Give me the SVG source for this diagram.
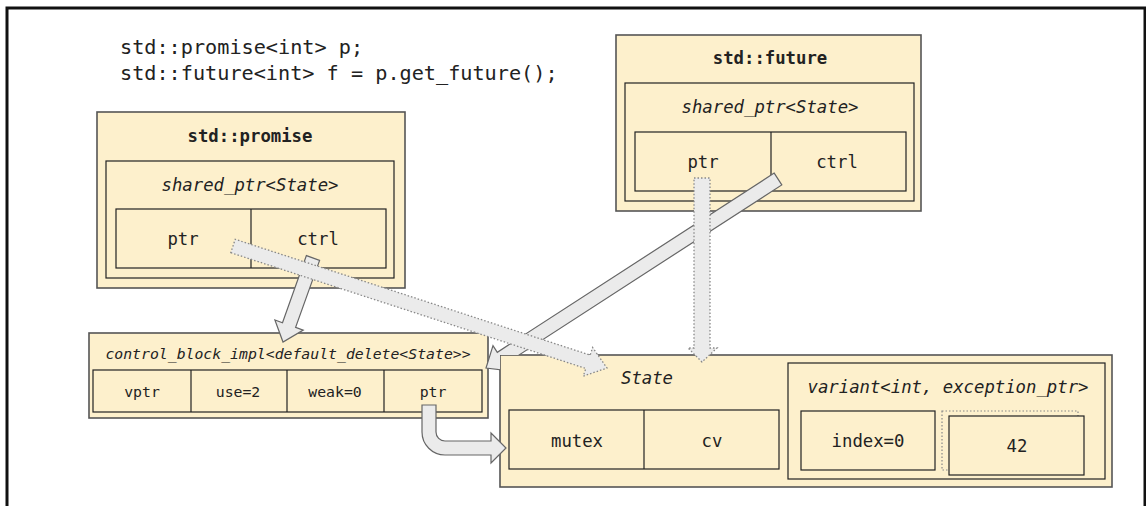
<svg xmlns="http://www.w3.org/2000/svg" width="1146" height="506" viewBox="0 0 1146 506">
<style>
text{font-family:"DejaVu Sans Mono","Liberation Mono",monospace;fill:#222;text-anchor:middle;font-size:17.3px}
.code{text-anchor:start;font-size:20.2px}
.b{font-weight:bold}
.i{font-style:italic}
.sm{font-size:14.8px}
.outer{fill:#fdf0cc;stroke:#555;stroke-width:1.6}
.inner{fill:#fdf0cc;stroke:#222;stroke-width:1.2}
.ln{stroke:#222;stroke-width:1.2}
.solid{fill:#ebebeb;stroke:#666;stroke-width:1.2;stroke-linejoin:miter}
.dot{fill:#ebebeb;stroke:#888;stroke-width:1.3;stroke-dasharray:1.5 2}
</style>
<defs>
<clipPath id="noState"><path clip-rule="evenodd" d="M0,0H1146V506H0Z M500,355V487H1112V355Z"/></clipPath>
</defs>
<path d="M7,506V8H1145V506" fill="none" stroke="#111" stroke-width="3"/>
<g id="code">
<text class="code" x="120" y="54">std::promise&lt;int&gt; p;</text>
<text class="code" x="120" y="80">std::future&lt;int&gt; f = p.get_future();</text>
</g>
<g id="promise">
<rect class="outer" x="97" y="112" width="308" height="176"/>
<text class="b" x="250" y="142">std::promise</text>
<rect class="inner" x="106" y="161" width="288" height="117"/>
<text class="i" x="250" y="191">shared_ptr&lt;State&gt;</text>
<rect class="inner" x="116" y="209" width="270" height="59"/>
<line class="ln" x1="251" y1="209" x2="251" y2="268"/>
<text x="183" y="245">ptr</text>
<text x="318" y="245">ctrl</text>
</g>
<g id="future">
<rect class="outer" x="616" y="35" width="305" height="176"/>
<text class="b" x="770" y="64">std::future</text>
<rect class="inner" x="625" y="83" width="289" height="118"/>
<text class="i" x="770" y="113">shared_ptr&lt;State&gt;</text>
<rect class="inner" x="635" y="132" width="271" height="59"/>
<line class="ln" x1="771" y1="132" x2="771" y2="191"/>
<text x="703" y="168">ptr</text>
<text x="837" y="168">ctrl</text>
</g>
<g id="control_block">
<rect class="outer" x="89" y="333" width="399" height="85"/>
<text class="i sm" x="288" y="359">control_block_impl&lt;default_delete&lt;State&gt;&gt;</text>
<rect class="inner" x="93" y="370" width="389" height="42"/>
<line class="ln" x1="191" y1="370" x2="191" y2="412"/>
<line class="ln" x1="287" y1="370" x2="287" y2="412"/>
<line class="ln" x1="384" y1="370" x2="384" y2="412"/>
<text class="sm" x="142" y="397">vptr</text>
<text class="sm" x="238" y="397">use=2</text>
<text class="sm" x="335" y="397">weak=0</text>
<text class="sm" x="433" y="397">ptr</text>
</g>
<g id="state">
<rect class="outer" x="500" y="355" width="612" height="132"/>
<text class="i" x="647" y="384">State</text>
<rect class="inner" x="509" y="410" width="270" height="59"/>
<line class="ln" x1="644" y1="410" x2="644" y2="469"/>
<text x="577" y="447">mutex</text>
<text x="712" y="447">cv</text>
<g id="variant">
<rect class="inner" x="788" y="363" width="317" height="116"/>
<text class="i" x="948" y="393">variant&lt;int, exception_ptr&gt;</text>
<rect class="inner" x="801" y="411" width="134" height="59"/>
<text x="868" y="447">index=0</text>
<rect x="942" y="411" width="136" height="59" fill="none" stroke="#888" stroke-width="1.2" stroke-dasharray="1.5 2"/>
<rect class="inner" x="949" y="416" width="135" height="59"/>
<text x="1017" y="452">42</text>
</g>
</g>
<g id="connectors">
<polygon class="solid" points="319.6,260.4 295.6,327.4 303.2,330.1 283,342 274.9,320 282.5,322.7 306.4,255.6"/>
<polygon class="solid" clip-path="url(#noState)" points="774.2,173.1 497.3,352.3 493,345.6 486,368 509.3,370.8 504.9,364.1 781.8,184.9"/>
<path class="solid" d="M422,405V432A23,23 0 0 0 445,455H491V463L506,448L491,433V441H445A9,9 0 0 1 436,432V405Z"/>
<polygon class="dot" points="230.8,252.7 585.8,368.5 583.3,376.1 607,368 592.6,347.5 590.2,355.1 235.2,239.3"/>
<polygon class="dot" points="694,178 710,178 710,348 717,348 702,362 688,348 694,348"/>
</g>
</svg>
